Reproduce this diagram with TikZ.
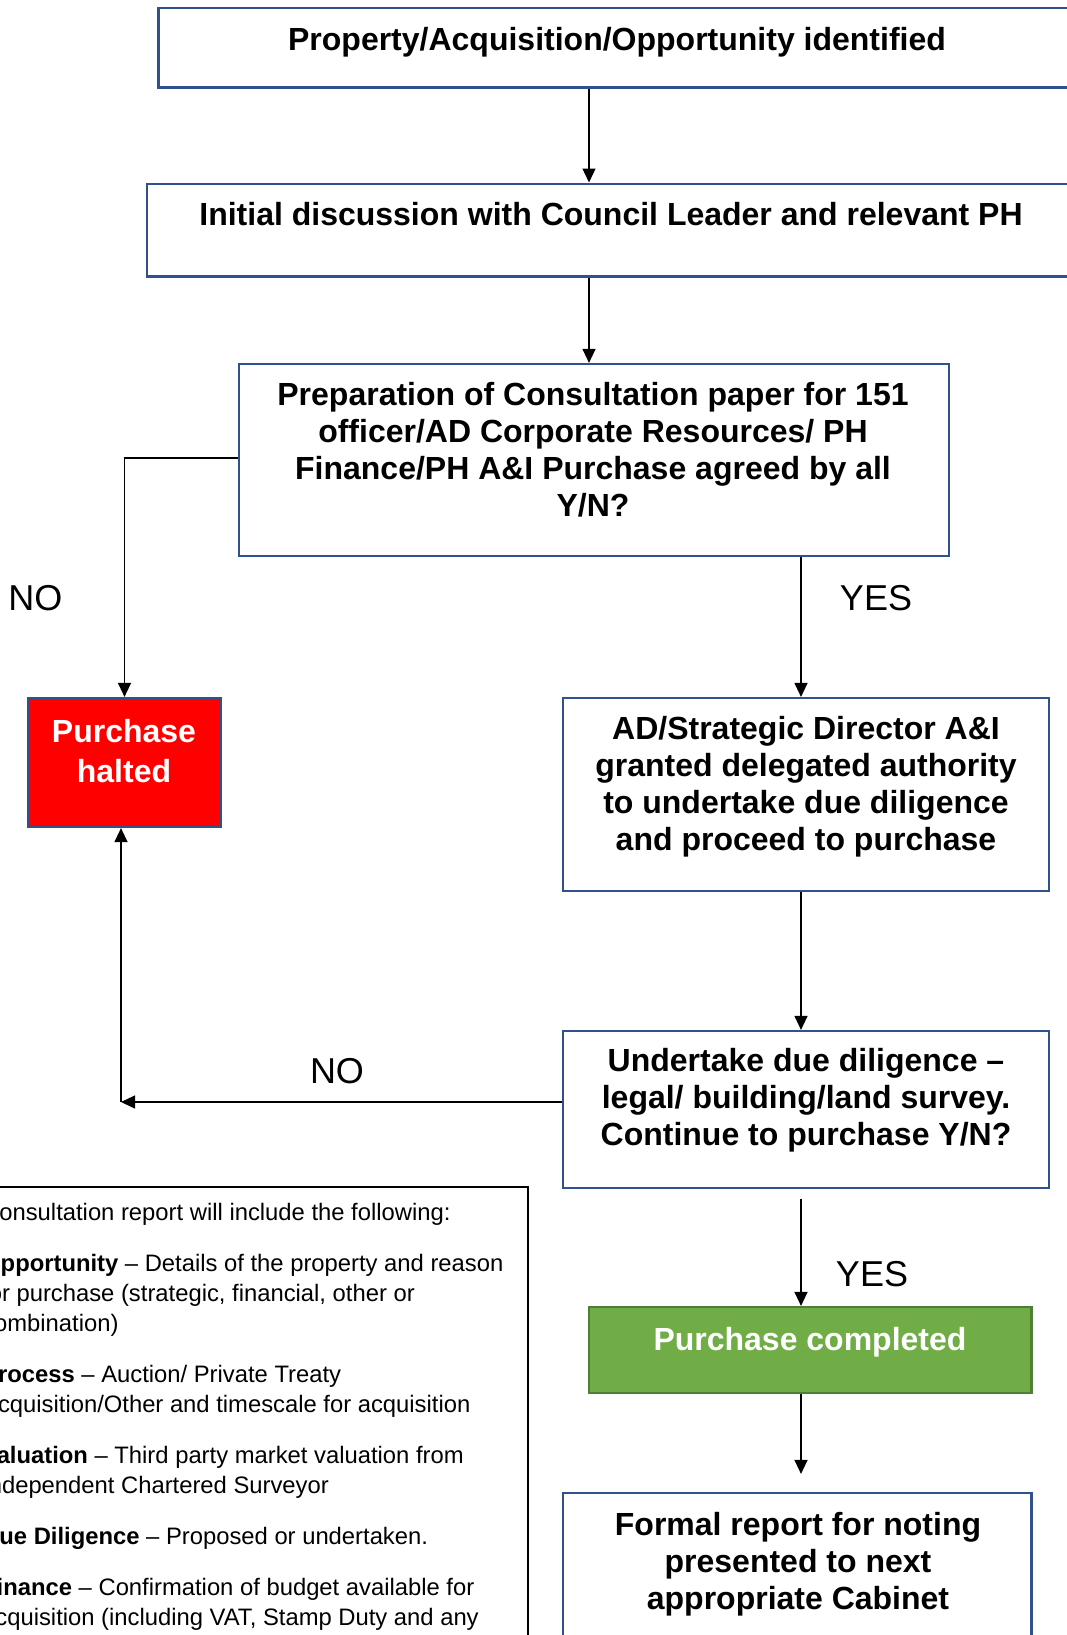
\documentclass[tikz,border=0pt]{standalone}
\usepackage{fontspec}
\setmainfont{Liberation Sans}
\usetikzlibrary{arrows.meta,calc}
\definecolor{boxblue}{HTML}{2F528F}
\definecolor{okgreen}{HTML}{70AD47}
\definecolor{okgreenline}{HTML}{507E32}
\begin{document}
\begin{tikzpicture}[x=1pt,y=-1pt,
  flowbox/.style={draw=boxblue,line width=2.2pt,rectangle,inner sep=0pt},
  boxtext/.style={font=\fontsize{32}{37}\selectfont\bfseries,align=center,inner sep=0pt},
  arr/.style={line width=1.3pt,-{Triangle[length=14pt,width=13pt]}},
  lbl/.style={font=\fontsize{36}{40}\selectfont,inner sep=0pt}]
\useasboundingbox (0,0) rectangle (1067,1635);
\clip (0,0) rectangle (1067,1635);
\fill[white] (0,0) rectangle (1067,1635);

% boxes
\node[flowbox,minimum width=917.5pt,minimum height=79.6pt] (b1) at (617.3,47.8) {};
\node[flowbox,minimum width=928pt,minimum height=92.8pt] (b2) at (611,230) {};
\node[flowbox,minimum width=710pt,minimum height=192pt] (b3) at (594,460) {};
\node[flowbox,fill=red,minimum width=193pt,minimum height=129pt] (halt) at (124.5,762.5) {};
\node[flowbox,minimum width=486pt,minimum height=193pt] (b4) at (806,794.5) {};
\node[flowbox,minimum width=486pt,minimum height=157pt] (b5) at (806,1109.5) {};
\node[flowbox,draw=okgreenline,fill=okgreen,minimum width=442.5pt,minimum height=86pt] (done) at (810.25,1350) {};
\node[flowbox,minimum width=468.5pt,minimum height=167pt] (b6) at (797.25,1576.5) {};
\node[draw=black,line width=2.5pt,rectangle,inner sep=0pt,minimum width=558pt,minimum height=513pt] (note) at (249,1443.5) {};

% texts
\node[boxtext] (t1) at (617,41.8) {Property/Acquisition/Opportunity identified};
\node[boxtext] (t2) at (611,214.5) {Initial discussion with Council Leader and relevant PH};
\node[boxtext] (t3) at (593,449.5) {Preparation of Consultation paper for 151\\officer/AD Corporate Resources/ PH\\Finance/PH A\&I Purchase agreed by all\\Y/N?};
\node[boxtext,font=\fontsize{32}{39.5}\selectfont\bfseries,text=white] (th) at (124,751) {Purchase\\halted};
\node[boxtext] (t4) at (806,787) {AD/Strategic Director A\&I\\granted delegated authority\\to undertake due diligence\\and proceed to purchase};
\node[boxtext] (t5) at (806,1100) {Undertake due diligence –\\legal/ building/land survey.\\Continue to purchase Y/N?};
\node[boxtext,text=white] (td) at (810,1342) {Purchase completed};
\node[boxtext] (t6) at (798,1564) {Formal report for noting\\presented to next\\appropriate Cabinet};

\node[anchor=north west,inner sep=0pt,align=left,font=\fontsize{23.8}{30}\selectfont] (tn) at (-18,1203.4) {%
Consultation report will include the following:\\[21pt]
\textbf{Opportunity} – Details of the property and reason\\
for purchase (strategic, financial, other or\\
combination)\\[21pt]
\textbf{Process} – Auction/ Private Treaty\\
Acquisition/Other and timescale for acquisition\\[21pt]
\textbf{Valuation} – Third party market valuation from\\
Independent Chartered Surveyor\\[21pt]
\textbf{Due Diligence} – Proposed or undertaken.\\[21pt]
\textbf{Finance} – Confirmation of budget available for\\
acquisition (including VAT, Stamp Duty and any};

% labels
\node[lbl] (no1) at (35.5,598) {NO};
\node[lbl] (yes1) at (876,598) {YES};
\node[lbl] (no2) at (337,1071) {NO};
\node[lbl] (yes2) at (872,1274.5) {YES};

% connectors
\coordinate (cx1) at (589,0);
\coordinate (cx2) at (801,0);
\coordinate (k) at (121,1102);
\draw[arr] (cx1 |- b1.south) -- (cx1 |- b2.north);
\draw[arr] (cx1 |- b2.south) -- (cx1 |- b3.north);
\draw[arr] (b3.west |- 0,458) -| (halt.north);
\draw[arr] (cx2 |- b3.south) -- (cx2 |- b4.north);
\draw[arr] (cx2 |- b4.south) -- (cx2 |- b5.north);
\draw[arr] (b5.west |- k) -- (k);
\draw[arr] (k) -- (k |- halt.south);
\draw[arr,shorten <=10pt] (cx2 |- b5.south) -- (cx2 |- done.north);
\draw[arr,shorten >=18pt] (cx2 |- done.south) -- (cx2 |- b6.north);
\end{tikzpicture}
\end{document}
